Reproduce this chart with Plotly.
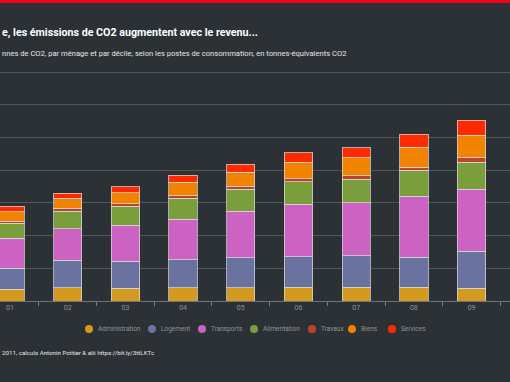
import plotly.graph_objects as go

categories = ["01", "02", "03", "04", "05", "06", "07", "08", "09"]
series_names = ["Administration", "Logement", "Transports", "Alimentation", "Travaux", "Biens", "Services"]
administration = [1.83, 2.04, 1.94, 2.04, 2.04, 2.09, 2.14, 2.14, 1.94]
logement = [3.20, 4.19, 4.17, 4.28, 4.59, 4.68, 4.79, 4.54, 5.66]
transports = [4.60, 4.83, 5.46, 6.18, 7.10, 8.01, 8.10, 9.37, 9.53]
alimentation = [2.30, 2.70, 2.90, 3.21, 3.36, 3.46, 3.62, 3.93, 4.13]
travaux = [0.30, 0.41, 0.40, 0.40, 0.46, 0.46, 0.50, 0.46, 0.72]
biens = [1.40, 1.53, 1.68, 2.05, 2.14, 2.51, 2.75, 3.10, 3.41]
services = [0.90, 0.81, 0.92, 1.12, 1.27, 1.47, 1.59, 1.99, 2.25]
colors = ["#d49a1f", "#6a72a0", "#cc62c2", "#7a9e3c", "#bf4229", "#f28300", "#ff2a00"]

title_text = "e, les émissions de CO2 augmentent avec le revenu..."
subtitle_text = "nnes de CO2, par ménage et par décile, selon les postes de consommation, en tonnes-équivalents CO2"
source_text = "2011, calculs Antonin Pottier & alii https://bit.ly/3ttLKTc"

FONT = "Roboto, Liberation Sans, sans-serif"
BG = "#2c3136"

W, H = 510, 382
T, B = 70, 81
PH = H - T - B

def py(p):
    return (H - B - p) / PH

fig = go.Figure()
for name, vals, col in zip(series_names,
                           [administration, logement, transports, alimentation, travaux, biens, services],
                           colors):
    fig.add_trace(go.Bar(
        x=categories, y=vals, name=name, showlegend=False,
        marker=dict(color=col, line=dict(color="rgba(215,215,215,0.75)", width=1)),
    ))

fig.update_layout(
    width=W, height=H,
    margin=dict(l=0, r=0, t=T, b=B),
    paper_bgcolor=BG, plot_bgcolor=BG,
    barmode="stack", bargap=0.51,
    font=dict(family=FONT, color="#9aa0a6", size=8),
    xaxis=dict(range=[-0.173, 8.666], tickson="boundaries", ticks="outside", ticklen=4,
               tickcolor="#777d83", tickwidth=1, showgrid=False, showline=True,
               linecolor="#6b7177", linewidth=1, tickfont=dict(size=7, color="#8d9399"),
               fixedrange=True, zeroline=False),
    yaxis=dict(range=[0, 35.35], dtick=5, showgrid=True, gridcolor="#4e555b", gridwidth=1,
               showticklabels=False, zeroline=False, fixedrange=True),
    showlegend=False,
)

# top red band
fig.add_shape(type="rect", xref="paper", yref="paper", x0=0, x1=1, y0=py(3), y1=py(0),
              fillcolor="#f2001a", line=dict(width=0), layer="above")

fig.add_annotation(text="<b>" + title_text + "</b>", xref="paper", yref="paper", x=0, y=py(33),
                   xanchor="left", yanchor="middle", showarrow=False,
                   font=dict(family=FONT, size=10.7, color="#ffffff"))
fig.add_annotation(text=subtitle_text, xref="paper", yref="paper", x=0, y=py(54),
                   xanchor="left", yanchor="middle", showarrow=False,
                   font=dict(family=FONT, size=7.6, color="#e6e6e6"))
fig.add_annotation(text=source_text, xref="paper", yref="paper", x=0, y=py(353),
                   xanchor="left", yanchor="middle", showarrow=False,
                   font=dict(family=FONT, size=6.2, color="#e6e6e6"))

# manual legend with circular markers
legend_x = [89, 152, 202, 254, 312, 352, 392]
for name, col, lx in zip(series_names, colors, legend_x):
    fig.add_shape(type="circle", xref="paper", yref="paper",
                  x0=(lx - 4) / W, x1=(lx + 4) / W, y0=py(333), y1=py(325),
                  fillcolor=col, line=dict(width=0))
    fig.add_annotation(text=name, xref="paper", yref="paper", x=(lx + 7) / W, y=py(329),
                       xanchor="left", yanchor="middle", showarrow=False,
                       font=dict(family=FONT, size=6.5, color="#8e949a"))

fig.write_html("out.html", config={"displayModeBar": False},
               post_script="document.body.style.margin='0';document.body.style.background='#2c3136';")
